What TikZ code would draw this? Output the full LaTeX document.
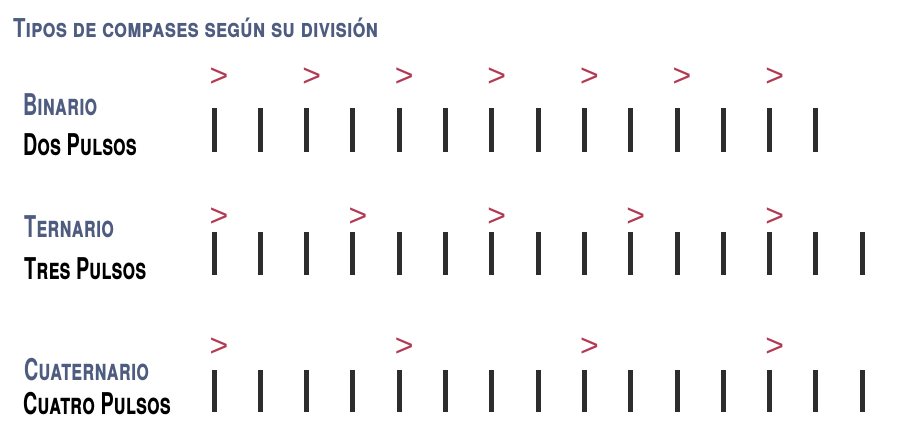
\documentclass[tikz,border=0pt]{standalone}
\usepackage{fontspec}
\newfontfamily\labelfont[FakeStretch=0.785]{TeX Gyre Heros}
\newfontfamily\rowfont[FakeStretch=0.66]{TeX Gyre Heros}
\newfontfamily\accentfont{Liberation Sans}
\definecolor{SlateBlue}{RGB}{78,92,128}
\definecolor{AccentRed}{RGB}{178,58,82}
\definecolor{BarGrey}{RGB}{45,45,45}

\begin{document}
\begin{tikzpicture}[x=1pt, y=-1pt,
    heading/.style={anchor=base west, inner sep=0pt, text=SlateBlue, font=\labelfont\bfseries\scshape\fontsize{26}{26}\selectfont},
    metre/.style={anchor=base west, inner sep=0pt, text=SlateBlue, font=\rowfont\bfseries\scshape\fontsize{30}{30}\selectfont},
    pulses/.style={anchor=base west, inner sep=0pt, text=black, font=\rowfont\bfseries\scshape\fontsize{30}{30}\selectfont},
    pulse/.style={line width=5pt, BarGrey},
    accent/.style={inner sep=0pt, text=AccentRed, font=\accentfont\fontsize{32}{32}\selectfont}]
    \useasboundingbox (0,0) rectangle (905,421);

    % Title
    \node[heading] (title) at (13,37) {Tipos de compases según su división};

    % Row labels
    \node[metre]  (bin)   at (23,115) {Binario};
    \node[pulses] (binp)  at (23,155) {Dos Pulsos};
    \node[metre]  (ter)   at (24,237) {Ternario};
    \node[pulses] (terp)  at (24,279) {Tres Pulsos};
    \node[metre]  (cua)   at (24,380) {Cuaternario};
    \node[pulses] (cuap)  at (23,414) {Cuatro Pulsos};

    % Pulses, binary row
    \foreach \i in {0,...,13}
        \draw[pulse] (214+46.3*\i,108) -- (214+46.3*\i,152);
    \foreach \i in {0,2,...,12}
        \node[accent] (bacc\i) at (219+46.3*\i,77) {>};

    % Pulses, ternary row
    \foreach \i in {0,...,14}
        \draw[pulse] (214+46.3*\i,232) -- (214+46.3*\i,275);
    \foreach \i in {0,3,...,12}
        \node[accent] (tacc\i) at (219+46.3*\i,217) {>};

    % Pulses, quaternary row
    \foreach \i in {0,...,14}
        \draw[pulse] (214+46.3*\i,370) -- (214+46.3*\i,412);
    \foreach \i in {0,4,...,12}
        \node[accent] (cacc\i) at (219+46.3*\i,347) {>};
\end{tikzpicture}
\end{document}
